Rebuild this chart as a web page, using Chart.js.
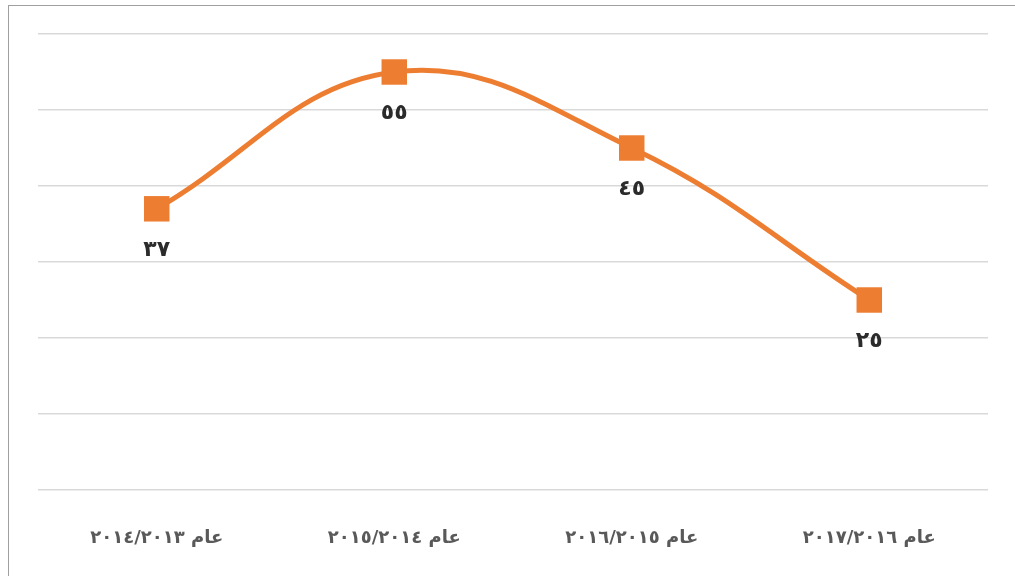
<!DOCTYPE html>
<html>
<head>
<meta charset="utf-8">
<script src="https://cdn.jsdelivr.net/npm/chart.js@4.4.0/dist/chart.umd.min.js"></script>
<style>
  html, body { margin: 0; padding: 0; background: #fff; overflow: hidden; }
  #wrap { position: relative; width: 1015px; height: 576px; }
  #frame { position: absolute; left: 8px; top: 5px; width: 1030px; height: 600px;
           border: 1.5px solid #a0a0a0; box-sizing: border-box; pointer-events: none; }
  canvas { position: absolute; left: 0; top: 0; }
</style>
</head>
<body>
<div id="wrap">
  <canvas id="myChart" width="1015" height="576" dir="rtl"></canvas>
  <div id="frame"></div>
</div>
<script>
// data
var categories = ["عام ٢٠١٣\u200F/\u200F٢٠١٤", "عام ٢٠١٤\u200F/\u200F٢٠١٥", "عام ٢٠١٥\u200F/\u200F٢٠١٦", "عام ٢٠١٦\u200F/\u200F٢٠١٧"];
var values = [37, 55, 45, 25];
var valueLabels = ["٣٧", "٥٥", "٤٥", "٢٥"];

var orange = "#ED7D31";

// labels under each point
var pointLabels = {
  id: "pointLabels",
  afterDatasetsDraw: function(chart) {
    var ctx = chart.ctx;
    var meta = chart.getDatasetMeta(0);
    ctx.save();
    ctx.font = "bold 22px 'DejaVu Sans'";
    ctx.fillStyle = "#2b2b2b";
    ctx.textAlign = "center";
    ctx.textBaseline = "middle";
    meta.data.forEach(function(pt, i) {
      ctx.fillText(valueLabels[i], pt.x, pt.y + 41);
    });
    ctx.restore();
  }
};

var ctx = document.getElementById("myChart").getContext("2d");
var chart = new Chart(ctx, {
  type: "line",
  data: {
    labels: categories,
    datasets: [{
      data: values,
      borderColor: orange,
      backgroundColor: orange,
      borderWidth: 5,
      tension: 0.4,
      pointStyle: "rect",
      pointRadius: 18,
      pointHoverRadius: 18,
      pointBorderWidth: 0,
      pointBackgroundColor: orange
    }]
  },
  options: {
    responsive: false,
    animation: false,
    layout: { padding: { left: 38, right: 27, top: 34, bottom: 0 } },
    plugins: { legend: { display: false }, tooltip: { enabled: false } },
    scales: {
      x: {
        offset: true,
        grid: { display: false, drawTicks: false },
        border: { display: false },
        afterFit: function(scale) { scale.height = 86; },
        ticks: {
          padding: 38,
          color: "#595959",
          font: { family: "DejaVu Sans", size: 18, weight: "bold" },
          maxRotation: 0
        }
      },
      y: {
        min: 0,
        max: 60,
        ticks: { display: false, stepSize: 10 },
        grid: { color: "#d9d9d9", lineWidth: 1.5, drawTicks: false },
        border: { display: false }
      }
    }
  },
  plugins: [pointLabels]
});
</script>
</body>
</html>
